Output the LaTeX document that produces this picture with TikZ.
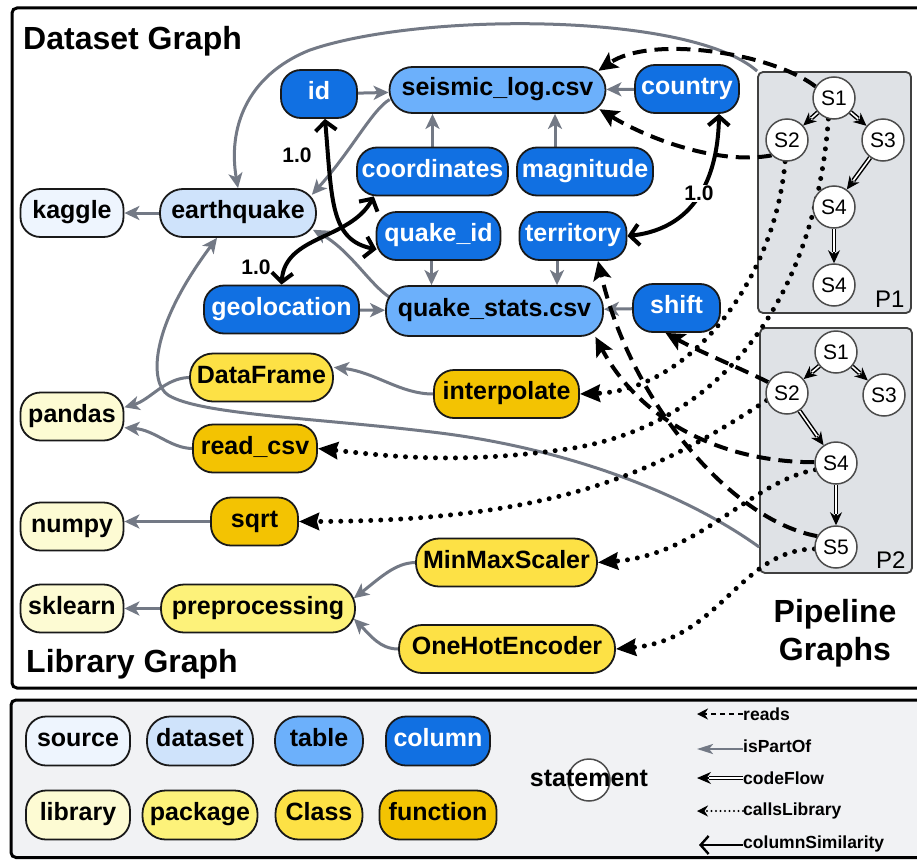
\documentclass[tikz,border=0pt]{standalone}
\usepackage{fontspec}
\setmainfont{Liberation Sans}
\usetikzlibrary{arrows.meta}
\pgfdeclarelayer{bg}
\pgfdeclarelayer{edges}
\pgfsetlayers{bg,edges,main}
\definecolor{csource}{HTML}{EEF5FE}
\definecolor{cdataset}{HTML}{CFE3FB}
\definecolor{ctable}{HTML}{6CB0FB}
\definecolor{ccolumn}{HTML}{1170E2}
\definecolor{clibrary}{HTML}{FDFBD3}
\definecolor{cpackage}{HTML}{FDF27A}
\definecolor{cclass}{HTML}{FDE145}
\definecolor{cfunction}{HTML}{F3C302}
\definecolor{cgray}{HTML}{737985}
\definecolor{cpipe}{HTML}{DFE2E6}
\definecolor{clegend}{HTML}{F1F2F4}
\newcommand\flowedge[2]{\draw[flowtip] (#1) -- (#2);\draw[flowline] (#1) -- (#2);}
\begin{document}
\begin{tikzpicture}[x=1pt,y=-1pt,
  nodebase/.style={rectangle, draw=black!90, line width=1.8pt, minimum height=48pt, inner sep=0pt, text height=17pt, text depth=6pt, font=\bfseries\fontsize{25}{30}\selectfont},
  sq/.style={nodebase, rounded corners=20pt},
  rd/.style={nodebase, rounded corners=23pt},
  tsource/.style={sq, fill=csource},
  tdataset/.style={rd, fill=cdataset},
  ttable/.style={rd, fill=ctable},
  tcolumn/.style={sq, fill=ccolumn, text=white},
  tlibrary/.style={sq, fill=clibrary},
  tpackage/.style={rd, fill=cpackage},
  tclass/.style={rd, fill=cclass},
  tfunction/.style={sq, fill=cfunction},
  stmt/.style={circle, draw=black!70, line width=1.5pt, fill=white, minimum size=42pt, inner sep=0pt, font=\fontsize{21}{21}\selectfont},
  pipebox/.style={rectangle, draw=black!75, line width=1.8pt, fill=cpipe, rounded corners=5pt, inner sep=0pt},
  title/.style={font=\bfseries\fontsize{32}{36}\selectfont, inner sep=0pt},
  plabel/.style={font=\fontsize{24}{24}\selectfont, inner sep=0pt},
  simlabel/.style={font=\bfseries\fontsize{21}{21}\selectfont, inner sep=1pt},
  legtext/.style={font=\bfseries\fontsize{17.5}{20}\selectfont, inner sep=0pt, anchor=west},
  partof/.style={draw=cgray, line width=3pt, -{Stealth[length=15pt,width=14pt,inset=4pt]}},
  reads/.style={draw=black, line width=4pt, dash pattern=on 14pt off 8pt, -{Stealth[length=19pt,width=18pt,inset=4pt]}},
  calls/.style={draw=black, line width=5pt, line cap=round, dash pattern=on 0pt off 10pt, -{Stealth[length=20pt,width=17pt,inset=2pt]}},
  simil/.style={draw=black, line width=4pt, {Straight Barb[length=9pt,width=21pt]}-{Straight Barb[length=9pt,width=21pt]}},
  flowtip/.style={draw=black, line width=1.2pt, -{Stealth[length=13pt,width=12pt]}},
  flowline/.style={draw=black, line width=1.5pt, double=white, double distance=1.6pt, shorten >=11pt},
  lgreads/.style={draw=black, line width=2.2pt, dash pattern=on 5pt off 4pt, -{Stealth[length=11pt,width=11pt]}},
  lgpart/.style={draw=cgray, line width=2.5pt, -{Stealth[length=16pt,width=10pt,inset=4pt]}},
  lgcalls/.style={draw=black, line width=2.4pt, line cap=round, dash pattern=on 0pt off 4.5pt, -{Stealth[length=11pt,width=11pt]}},
  lgsim/.style={draw=black, line width=2.4pt, -{Straight Barb[length=8pt,width=18pt]}},
  lgflowtip/.style={draw=black, line width=1.2pt, -{Stealth[length=14pt,width=12pt]}},
  lgflowline/.style={draw=black, line width=1.7pt, double=white, double distance=1.5pt, shorten >=12pt},
]
\useasboundingbox (0,0) rectangle (917,859);
\begin{pgfonlayer}{bg}
  \fill[white] (0,0) rectangle (917,859);
  \draw[line width=3pt, rounded corners=5pt] (12,8) rectangle (935,688);
  \draw[line width=3pt, rounded corners=5pt, fill=clegend] (11,700) rectangle (935,857.5);
  \node[pipebox, minimum width=153pt, minimum height=241pt] (P1) at (834.5,192.5) {};
  \node[pipebox, minimum width=152pt, minimum height=245pt] (P2) at (836,450.5) {};
\end{pgfonlayer}

% titles
\node[title, anchor=base west] (tds) at (23,49) {Dataset Graph};
\node[title, anchor=base west] (tlib) at (26,672) {Library Graph};
\node[title, anchor=base] (tpipe1) at (835,622) {Pipeline};
\node[title, anchor=base] (tpipe2) at (835,660) {Graphs};

% dataset graph
\node[tsource, minimum width=103pt] (kaggle) at (72,213) {kaggle};
\node[tdataset, minimum width=156pt] (eq) at (238,213) {earthquake};
\node[tcolumn, minimum width=76pt] (id) at (319,94) {id};
\node[ttable, minimum width=216pt, minimum height=46pt] (seis) at (497.5,90) {seismic\_log.csv};
\node[tcolumn, minimum width=104pt] (country) at (687,89) {country};
\node[tcolumn, minimum width=151pt] (coord) at (432.5,171.5) {coordinates};
\node[tcolumn, minimum width=136pt] (magn) at (585,171.5) {magnitude};
\node[tcolumn, minimum width=124pt] (qid) at (438.5,236) {quake\_id};
\node[tcolumn, minimum width=107pt] (terr) at (573,236) {territory};
\node[tcolumn, minimum width=155pt] (geo) at (281.5,309.5) {geolocation};
\node[ttable, minimum width=217pt, minimum height=50pt] (qstats) at (494.5,311) {quake\_stats.csv};
\node[tcolumn, minimum width=87pt] (shift) at (676.5,308) {shift};

% library graph
\node[tlibrary, minimum width=103pt] (pandas) at (72,416.5) {pandas};
\node[tclass, minimum width=143pt] (df) at (261.5,377.5) {DataFrame};
\node[tfunction, minimum width=145pt] (interp) at (506.5,394) {interpolate};
\node[tfunction, minimum width=124pt] (rc) at (255,448.5) {read\_csv};
\node[tlibrary, minimum width=103pt] (numpy) at (72,526.5) {numpy};
\node[tfunction, minimum width=87pt] (sqrt) at (254.5,521.5) {sqrt};
\node[tlibrary, minimum width=103pt] (sklearn) at (72,608.5) {sklearn};
\node[tpackage, minimum width=194pt] (prep) at (258,608.5) {preprocessing};
\node[tclass, minimum width=181pt] (mms) at (506.5,562.5) {MinMaxScaler};
\node[tclass, minimum width=216pt] (ohe) at (507,649) {OneHotEncoder};

% pipelines
\node[stmt] (p1s1) at (834,98) {S1};
\node[stmt] (p1s2) at (787,140) {S2};
\node[stmt] (p1s3) at (883,140) {S3};
\node[stmt] (p1s4) at (834,207) {S4};
\node[stmt] (p1s5) at (834,285) {S4};
\node[plabel, anchor=base west] (p1lab) at (875,307) {P1};
\node[stmt] (p2s1) at (836,352) {S1};
\node[stmt] (p2s2) at (787,393) {S2};
\node[stmt] (p2s3) at (884,395) {S3};
\node[stmt] (p2s4) at (836,463) {S4};
\node[stmt] (p2s5) at (836,547) {S5};
\node[plabel, anchor=base west] (p2lab) at (876,568) {P2};

% similarity labels
\node[simlabel] (sl1) at (297,155.5) {1.0};
\node[simlabel] (sl2) at (256,267) {1.0};
\node[simlabel, fill=white] (sl3) at (699,193.5) {1.0};

% legend
\node[tsource, minimum width=104pt, minimum height=49pt] (lsource) at (78,741) {source};
\node[tdataset, minimum width=106pt, minimum height=49pt] (ldataset) at (200,741) {dataset};
\node[ttable, minimum width=88pt, minimum height=49pt] (ltable) at (319,741) {table};
\node[tcolumn, minimum width=104pt, minimum height=49pt] (lcolumn) at (438,741) {column};
\node[tlibrary, minimum width=104pt, minimum height=49pt] (llibrary) at (78,815) {library};
\node[tpackage, minimum width=115pt, minimum height=49pt] (lpackage) at (200,815) {package};
\node[tclass, minimum width=87pt, minimum height=49pt] (lclass) at (319,815) {Class};
\node[tfunction, minimum width=117pt, minimum height=49pt] (lfunction) at (438,815) {function};
\node[stmt] (lstmt) at (589,780) {};
\node[font=\bfseries\fontsize{25}{30}\selectfont, inner sep=0pt] (lstmttext) at (589,778) {statement};

\node[legtext] (lreads) at (743,714) {reads};
\node[legtext] (lpart) at (743,746) {isPartOf};
\node[legtext] (lflow) at (743,778) {codeFlow};
\node[legtext] (lcalls) at (743,811) {callsLibrary};
\node[legtext] (lsim) at (743,844) {columnSimilarity};
\coordinate (lr) at (697,714);
\coordinate (lp) at (697,749);
\coordinate (lf) at (697,778);
\coordinate (lc) at (697,811);
\coordinate (ls) at (699,845);

\begin{pgfonlayer}{edges}
  % isPartOf
  \draw[partof] (id) -- (seis);
  \draw[partof] (country) -- (seis);
  \draw[partof] (coord) -- (coord |- seis.south);
  \draw[partof] ([xshift=-30pt]magn.north) -- ([xshift=-30pt]magn.north |- seis.south);
  \draw[partof] ([xshift=-7pt]qid.south) -- ([xshift=-7pt]qid.south |- qstats.north);
  \draw[partof] ([xshift=-16pt]terr.south) -- ([xshift=-16pt]terr.south |- qstats.north);
  \draw[partof] (geo) -- (qstats);
  \draw[partof] (shift) -- (qstats);
  \draw[partof] (eq) -- (kaggle);
  \draw[partof] ([xshift=1pt]seis.185) .. controls (372,110) and (352,150) .. ([xshift=-5pt]eq.13);
  \draw[partof] ([xshift=5pt]qstats.173) .. controls (370,285) and (350,250) .. ([xshift=-4pt]eq.-12);
  \draw[partof] (P1.north west) .. controls (690,12) and (420,12) .. (310,50) .. controls (245,76) and (228,130) .. (eq.north);
  \draw[partof] (P2.west |- p2s5) .. controls (680,490) and (560,448) .. (440,433) .. controls (320,418) and (200,415) .. (168,395) .. controls (150,383) and (148,330) .. ([xshift=-21pt]eq.south);
  \draw[partof] (df.west) .. controls (165,378) and (150,400) .. (pandas.10);
  \draw[partof] (rc.west) .. controls (170,448) and (155,430) .. (pandas.-12);
  \draw[partof] (interp.west) .. controls (400,394) and (375,372) .. (df.8);
  \draw[partof] (sqrt.west) -- (sqrt.west -| numpy.east);
  \draw[partof] (prep) -- (sklearn);
  \draw[partof] (mms.west) .. controls (395,563) and (380,578) .. ([xshift=-2pt]prep.6);
  \draw[partof] (ohe.west) .. controls (380,649) and (370,635) .. ([xshift=-2pt]prep.-6);
  % columnSimilarity
  \draw[simil] ([xshift=6pt]id.south) .. controls (332,200) and (330,240) .. ([xshift=1pt]qid.192);
  \draw[simil] (coord.203) .. controls (350,240) and (285,235) .. (geo.north);
  \draw[simil] ([xshift=32pt]country.south) .. controls (718,170) and (700,228) .. (terr.east);
  % reads
  \draw[reads] (p1s1.148) .. controls (770,52) and (650,35) .. ([xshift=-8pt]seis.10);
  \draw[reads] (p1s2.225) .. controls (720,165) and (650,140) .. ([xshift=-7pt]seis.-10);
  \draw[reads] (p2s2.150) .. controls (740,368) and (700,352) .. ([xshift=-11pt]shift.south);
  \draw[reads] (p2s4.178) .. controls (720,462) and (640,420) .. ([xshift=-3pt]qstats.-14);
  \draw[reads] (p2s5.150) .. controls (730,520) and (630,400) .. ([xshift=25pt]terr.south);
  % callsLibrary
  \draw[calls] (p1s1.255) .. controls (815,300) and (720,430) .. (560,450) .. controls (450,465) and (380,455) .. (rc.east);
  \draw[calls] (p1s2.265) .. controls (775,280) and (690,390) .. (interp.east);
  \draw[calls] (p2s2.200) .. controls (660,470) and (560,521) .. (sqrt.east);
  \draw[calls] (p2s4.198) .. controls (750,482) and (700,555) .. (mms.east);
  \draw[calls] (p2s5.185) .. controls (740,550) and (720,640) .. (ohe.east);
  % codeFlow
  \flowedge{p1s1}{p1s2}
  \flowedge{p1s1}{p1s3}
  \flowedge{p1s3}{p1s4}
  \flowedge{p1s4}{p1s5}
  \flowedge{p2s1}{p2s2}
  \flowedge{p2s1}{p2s3}
  \flowedge{p2s2}{p2s4}
  \flowedge{p2s4}{p2s5}
  % legend samples
  \draw[lgreads] (lreads.west) -- (lr);
  \draw[lgpart] (lpart.west |- lp) -- (lp);
  \draw[lgflowtip] (lflow.west) -- (lf);
  \draw[lgflowline] (lflow.west) -- (lf);
  \draw[lgcalls] (lcalls.west) -- (lc);
  \draw[lgsim] (lsim.west |- ls) -- (ls);
\end{pgfonlayer}
\end{tikzpicture}
\end{document}
